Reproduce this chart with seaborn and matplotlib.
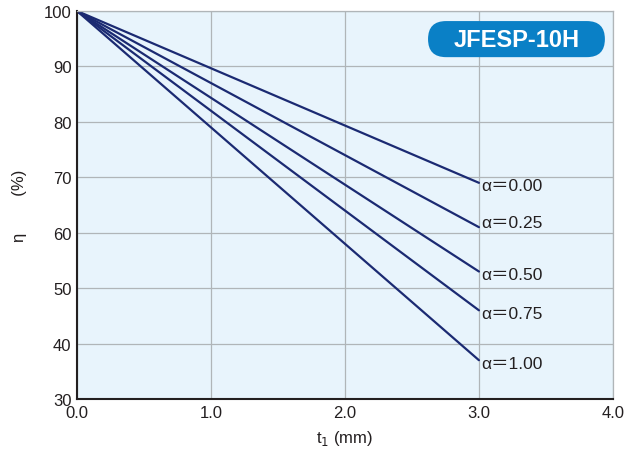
import numpy as np
import pandas as pd
import matplotlib
matplotlib.use("Agg")
from matplotlib import pyplot as plt
from matplotlib.patches import FancyBboxPatch
import seaborn as sns

# thickness t1 (mm) and efficiency eta (%) for each alpha
t1 = [0.0, 3.0]
alphas = ["0.00", "0.25", "0.50", "0.75", "1.00"]
eta_end = [69, 61, 53, 46, 37]
eta_start = 100

rows = []
for a, e in zip(alphas, eta_end):
    rows.append({"t1": t1[0], "eta": eta_start, "alpha": a})
    rows.append({"t1": t1[1], "eta": e, "alpha": a})
df = pd.DataFrame(rows)

sns.set_theme(style="whitegrid")
plt.rcParams['font.family'] = ['Liberation Sans', 'Noto Sans CJK JP', 'DejaVu Sans']

fig = plt.figure(figsize=(6.28, 4.52), dpi=100)
ax = fig.add_axes([0.1226, 0.115, 0.8534, 0.8585])
ax.set_facecolor("#e8f4fc")

sns.lineplot(data=df, x="t1", y="eta", hue="alpha", palette=["#1b2a72"] * 5,
             legend=False, linewidth=1.6, ax=ax)

ax.set_xlim(0, 4)
ax.set_ylim(30, 100)
ax.set_xticks(np.arange(0, 4.01, 1.0))
ax.set_xticklabels([f"{v:.1f}" for v in np.arange(0, 4.01, 1.0)])
ax.set_yticks(range(30, 101, 10))
ax.grid(True, color="#b0b5b8", linewidth=0.9)
ax.tick_params(length=0, labelsize=12, colors="#231f20", pad=4)

for side in ["top", "right"]:
    ax.spines[side].set_color("#b0b5b8")
    ax.spines[side].set_linewidth(0.9)
for side in ["left", "bottom"]:
    ax.spines[side].set_color("#231f20")
    ax.spines[side].set_linewidth(1.5)

ax.set_xlabel("t$_1$ (mm)", fontsize=12, color="#231f20", labelpad=6)
ax.set_ylabel("η        (%)", fontsize=12, color="#231f20", labelpad=12)

# small nudges so the labels sit like in the original
label_shift = [-0.5, 0.9, -0.6, -0.6, -0.6]
for a, e, s in zip(alphas, eta_end, label_shift):
    ax.text(t1[1] + 0.02, e + s, f"α＝{a}", fontsize=12.5, color="#231f20",
            va="center", ha="left")

badge = FancyBboxPatch((0.655, 0.881), 0.33, 0.093,
                       boxstyle="round,pad=0,rounding_size=0.0336",
                       transform=ax.transAxes, facecolor="#0a80c6",
                       edgecolor="none", mutation_aspect=1.38, zorder=5)
ax.add_patch(badge)
ax.text(0.82, 0.926, "JFESP-10H", transform=ax.transAxes, fontsize=17,
        fontweight="bold", color="white", ha="center", va="center", zorder=6)

fig.savefig("out.png", dpi=100)
